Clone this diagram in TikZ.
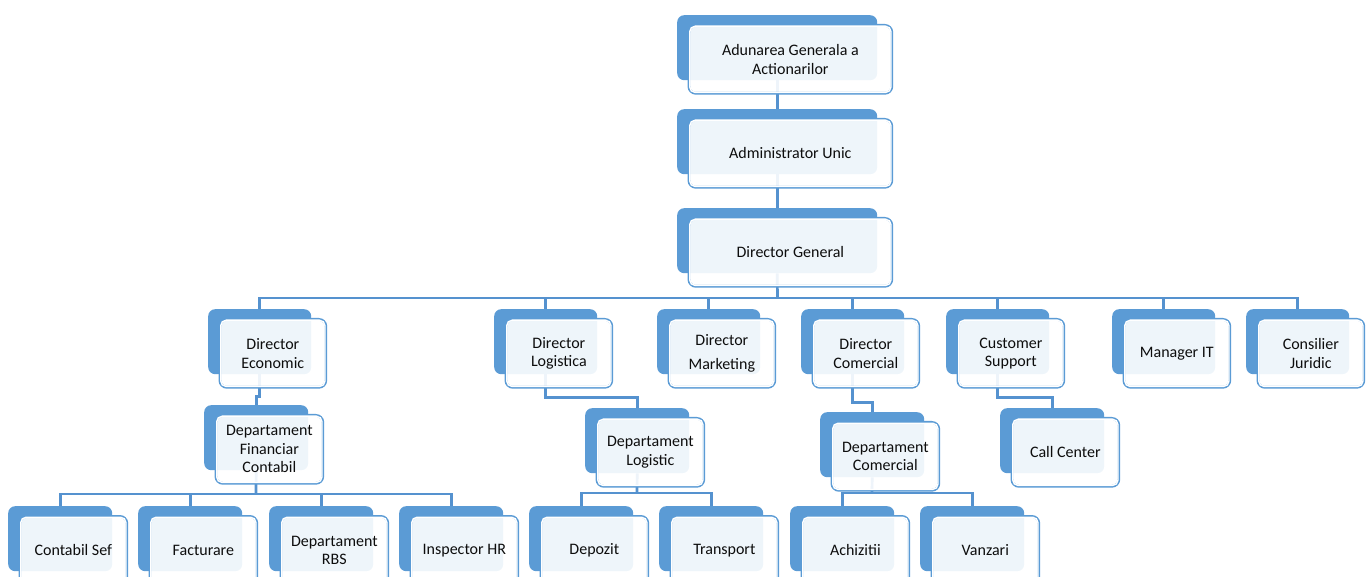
\documentclass[tikz,border=0pt]{standalone}
\usepackage{fontspec}
\setmainfont{Carlito}
\usetikzlibrary{backgrounds}
\definecolor{bblue}{HTML}{5B9BD5}
\definecolor{lblue}{HTML}{5592CF}
\definecolor{txt}{HTML}{0D0D0D}
\tikzset{
  backbox/.style={fill=bblue, draw=none, rounded corners=7pt, minimum height=65pt, inner sep=0pt},
  frontbox/.style={fill=white, fill opacity=0.9, text opacity=1, draw=bblue, line width=2.7pt,
    rounded corners=7pt, minimum height=68pt, inner sep=0pt, align=center, text=txt,
    font=\fontsize{16}{18.5}\selectfont},
  innerline/.style={draw=white, line width=1.4pt, rounded corners=5.5pt},
  conn/.style={draw=lblue, line width=2.7pt}
}
\newcommand\obox[5]{%
  \node[backbox, minimum width=#4, anchor=north west] (#1) at (#2,#3) {};
  \node[frontbox, minimum width=#4+3, anchor=north west] (#1-f) at (#2+10.5,#3+9) {#5};
  \draw[innerline] ([shift={(2.2,2.2)}]#1-f.north west) rectangle ([shift={(-2.2,-2.2)}]#1-f.south east);
}
\begin{document}
\begin{tikzpicture}[x=1pt,y=-1pt]
\useasboundingbox (0,0) rectangle (1369,577);
\clip (0,0) rectangle (1369,577);
% level 0-2
\obox{aga}{677}{15}{200}{Adunarea Generala a\\Actionarilor}
\obox{au}{677}{109}{200}{Administrator Unic}
\obox{dg}{677}{208}{200}{Director General}
% level 3
\obox{de}{208}{309}{103}{Director\\Economic}
\obox{dl}{494}{309}{103}{Director\\Logistica}
\obox{dm}{657}{309}{103}{Director\\[5pt]Marketing}
\obox{dc}{801}{309}{103}{Director\\Comercial}
\obox{cs}{946}{309}{103}{Customer\\Support}
\obox{mit}{1112}{309}{103}{Manager IT}
\obox{cj}{1246}{309}{103}{Consilier\\Juridic}
% level 4
\obox{dfc}{204}{405}{104}{Departament\\Financiar\\Contabil}
\obox{dlg}{585}{408}{104}{Departament\\Logistic}
\obox{dcm}{820}{412}{104}{Departament\\Comercial}
\obox{cc}{1000}{408}{104}{Call Center}
% level 5
\obox{cse}{8}{506}{104}{Contabil Sef}
\obox{fac}{138}{506}{104}{Facturare}
\obox{rbs}{269}{506}{104}{Departament\\RBS}
\obox{ihr}{399}{506}{104}{Inspector HR}
\obox{dep}{529}{506}{104}{Depozit}
\obox{tra}{659}{506}{104}{Transport}
\obox{ach}{790}{506}{104}{Achizitii}
\obox{van}{920}{506}{104}{Vanzari}
% connectors
\coordinate (bus1) at (777.5,298);
\coordinate (bus2) at (256,494);
\coordinate (bus3) at (637,493);
\coordinate (bus4) at (872,493);
\begin{scope}[on background layer]
\draw[conn] (aga.south) -- (au.north);
\draw[conn] (au.south) -- (dg.north);
\draw[conn] (dg.south) -- (bus1);
\draw[conn] (de.north) |- (bus1) -| (cj.north);
\foreach \n in {dl,dm,dc,cs,mit}{\draw[conn] (\n.north) -- (\n.north |- bus1);}
\draw[conn] (de.south) -- ++(0,22) -| (dfc.north);
\draw[conn] (dl.south) -- ++(0,23) -| (dlg.north);
\draw[conn] (dc.south) -- ++(0,28) -| (dcm.north);
\draw[conn] (cs.south) -- ++(0,23) -| (cc.north);
\draw[conn] (dfc.south) -- (bus2);
\draw[conn] (cse.north) |- (bus2) -| (ihr.north);
\foreach \n in {fac,rbs}{\draw[conn] (\n.north) -- (\n.north |- bus2);}
\draw[conn] (dlg.south) -- (bus3);
\draw[conn] (dep.north) |- (bus3) -| (tra.north);
\draw[conn] (dcm.south) -- (bus4);
\draw[conn] (ach.north) |- (bus4) -| (van.north);
\end{scope}
\end{tikzpicture}
\end{document}
